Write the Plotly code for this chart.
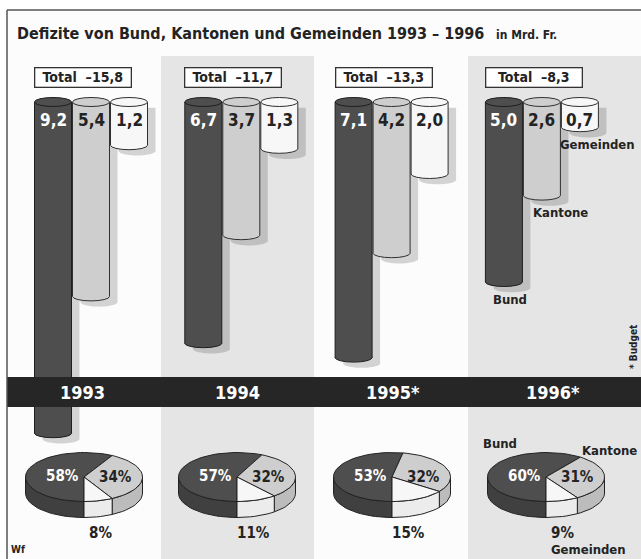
import math
import plotly.graph_objects as go

# ---------------- data ----------------
years = ["1993", "1994", "1995*", "1996*"]
series_names = ["Bund", "Kantone", "Gemeinden"]
bund = [9.2, 6.7, 7.1, 5.0]
kantone = [5.4, 3.7, 4.2, 2.6]
gemeinden = [1.2, 1.3, 2.0, 0.7]
pct_bund = [58, 57, 53, 60]
pct_kantone = [34, 32, 32, 31]
pct_gemeinden = [8, 11, 15, 9]

# ---------------- style / layout ----------------
W, H = 641, 559
Y0, K = 102, 36.0             # pixel of value 0, pixels per unit
y_rng = [(H - Y0) / K, -Y0 / K]
group_x = [91 + 150.3 * i for i in range(4)]
GAP, BW = 38, 37
RY = 4.5 / K                  # cap ellipse half height in value units
pie_cx = [84, 237, 392, 546]
PIE_CY, PIE_RX, PIE_RY, PIE_D = 477, 58.5, 24.5, 16
year_x = [82, 237, 393, 553]

FONT = "DejaVu Sans Condensed, DejaVu Sans, sans-serif"
INK = "#232323"
fill = {"Bund": "#4e4e4e", "Kantone": "#cecece", "Gemeinden": "#f7f7f7"}
side = {"Bund": "#404040", "Kantone": "#bcbcbc", "Gemeinden": "#ececec"}
edge = {"Bund": "#1e1e1e", "Kantone": "#303030", "Gemeinden": "#303030"}
values = {"Bund": bund, "Kantone": kantone, "Gemeinden": gemeinden}
pcts = {"Bund": pct_bund, "Kantone": pct_kantone, "Gemeinden": pct_gemeinden}


def fmt(v):
    return f"{v:.1f}".replace(".", ",")


def fnt(size, color=INK):
    return dict(family=FONT, size=size, weight="bold", color=color)


fig = go.Figure()
shapes = []
annotations = []

# panel backgrounds
shapes.append(dict(type="rect", xref="x", yref="y2", x0=7, x1=641, y0=10, y1=559,
                   fillcolor="#fcfcfc", line=dict(width=0), layer="below"))
for x0, x1 in [(161, 314), (468, 641)]:
    shapes.append(dict(type="rect", xref="x", yref="y2", x0=x0, x1=x1, y0=56, y1=559,
                       fillcolor="#e5e5e5", line=dict(width=0), layer="below"))

# shadows (path shapes, below)
SH_DX, SH_DY = 8, 0.16
for j, s in enumerate(series_names):
    for i, v in enumerate(values[s]):
        xc = group_x[i] + (j - 1) * GAP + SH_DX
        xl, xr = xc - BW / 2, xc + BW / 2
        yb = v + SH_DY
        pts = [f"M{xl},{SH_DY}", f"L{xl},{yb}"]
        for t in range(0, 21):
            a = math.pi * t / 20
            pts.append(f"L{xc - BW / 2 * math.cos(a)},{yb + RY * math.sin(a)}")
        pts.append(f"L{xr},{SH_DY} Z")
        shapes.append(dict(type="path", xref="x", yref="y", path=" ".join(pts),
                           fillcolor="rgba(0,0,0,0.16)", line=dict(width=0), layer="below"))

# bottom ellipses (below bars)
for j, s in enumerate(series_names):
    for i, v in enumerate(values[s]):
        xc = group_x[i] + (j - 1) * GAP
        shapes.append(dict(type="circle", xref="x", yref="y", x0=xc - BW / 2, x1=xc + BW / 2,
                           y0=v - RY, y1=v + RY, fillcolor=fill[s],
                           line=dict(color=edge[s], width=1), layer="below"))

# bar bodies
for j, s in enumerate(series_names):
    xs = [g + (j - 1) * GAP for g in group_x]
    fig.add_trace(go.Bar(x=xs, y=values[s], base=0, width=BW, name=s,
                         marker=dict(color=fill[s], line=dict(width=0)),
                         hoverinfo="skip", showlegend=False))

# side lines and top caps (above)
for j, s in enumerate(series_names):
    for i, v in enumerate(values[s]):
        xc = group_x[i] + (j - 1) * GAP
        for xe in (xc - BW / 2, xc + BW / 2):
            shapes.append(dict(type="line", xref="x", yref="y", x0=xe, x1=xe, y0=0, y1=v,
                               line=dict(color=edge[s], width=1), layer="above"))
        shapes.append(dict(type="circle", xref="x", yref="y", x0=xc - BW / 2, x1=xc + BW / 2,
                           y0=-RY, y1=RY, fillcolor=fill[s],
                           line=dict(color=edge[s], width=1), layer="above"))
        annotations.append(dict(x=xc, y=0.5, xref="x", yref="y", text=fmt(v), showarrow=False,
                                font=fnt(17, "#ffffff" if s == "Bund" else INK)))

# dark year band
shapes.append(dict(type="rect", xref="x", yref="y2", x0=7, x1=641, y0=377, y1=407,
                   fillcolor="#262626", line=dict(width=0), layer="above"))
# frame lines
shapes.append(dict(type="line", xref="x", yref="y2", x0=7, x1=641, y0=10, y1=10,
                   line=dict(color="#555555", width=1.5), layer="above"))
shapes.append(dict(type="line", xref="x", yref="y2", x0=7, x1=7, y0=10, y1=559,
                   line=dict(color="#555555", width=1.5), layer="above"))

# totals and year labels
for i in range(4):
    total = bund[i] + kantone[i] + gemeinden[i]
    annotations.append(dict(x=group_x[i] - 8, y=77.8, xref="x", yref="y2",
                            text=f"Total\u00a0\u00a0–{fmt(total)}", showarrow=False,
                            font=fnt(14), bgcolor="#ffffff", bordercolor="#333333",
                            borderwidth=1.3, width=93, height=16, borderpad=1))
    annotations.append(dict(x=year_x[i], y=392, xref="x", yref="y2", text=years[i],
                            showarrow=False, font=fnt(18, "#ffffff")))

# 3D pies
def ell(cx, th, dy=0.0):
    r = math.radians(th)
    return cx + PIE_RX * math.sin(r), PIE_CY - PIE_RY * math.cos(r) + dy


for i in range(4):
    cx = pie_cx[i]
    start = 180.0
    segs = []
    for s in series_names:
        ext = 360.0 * pcts[s][i] / 100.0
        segs.append((s, start, start + ext))
        start += ext
    # side walls (front half)
    for s, a0, a1 in segs:
        for f0, f1 in [(90, 270), (450, 630)]:
            lo, hi = max(a0, f0), min(a1, f1)
            if hi - lo <= 0.01:
                continue
            n = max(4, int((hi - lo) / 4))
            top = [ell(cx, lo + (hi - lo) * t / n) for t in range(n + 1)]
            bot = [ell(cx, lo + (hi - lo) * t / n, PIE_D) for t in range(n, -1, -1)]
            pts = top + bot + [top[0]]
            fig.add_trace(go.Scatter(x=[p[0] for p in pts], y=[p[1] for p in pts],
                                     xaxis="x", yaxis="y2", mode="lines", fill="toself",
                                     fillcolor=side[s], line=dict(color=INK, width=1),
                                     hoverinfo="skip", showlegend=False))
    # top slices
    for s, a0, a1 in segs:
        n = max(4, int((a1 - a0) / 4))
        arc = [ell(cx, a0 + (a1 - a0) * t / n) for t in range(n + 1)]
        pts = [(cx, PIE_CY)] + arc + [(cx, PIE_CY)]
        fig.add_trace(go.Scatter(x=[p[0] for p in pts], y=[p[1] for p in pts],
                                 xaxis="x", yaxis="y2", mode="lines", fill="toself",
                                 fillcolor=fill[s], line=dict(color=INK, width=1),
                                 hoverinfo="skip", showlegend=False))
    # labels
    annotations.append(dict(x=cx - 22, y=476, xref="x", yref="y2", text=f"{pct_bund[i]}%",
                            showarrow=False, font=fnt(15, "#ffffff")))
    annotations.append(dict(x=cx + 31, y=477, xref="x", yref="y2", text=f"{pct_kantone[i]}%",
                            showarrow=False, font=fnt(15)))
    annotations.append(dict(x=cx + 16, y=533, xref="x", yref="y2", text=f"{pct_gemeinden[i]}%",
                            showarrow=False, font=fnt(15)))

# series labels next to 1996 bars
lab_dx = {"Bund": 6, "Kantone": 19, "Gemeinden": 18}
for j, s in enumerate(series_names):
    v = values[s][3]
    xc = group_x[3] + (j - 1) * GAP
    annotations.append(dict(x=xc + lab_dx[s], y=v + 0.48, xref="x", yref="y", text=s,
                            showarrow=False, font=fnt(13)))

# pie legend labels for 1996
for txt, x, y in [("Bund", 500, 443), ("Kantone", 609, 450), ("Gemeinden", 588, 549)]:
    annotations.append(dict(x=x, y=y, xref="x", yref="y2", text=txt, showarrow=False,
                            font=fnt(13)))

# titles and notes
annotations.append(dict(x=15, y=33, xref="x", yref="y2", xanchor="left",
                        text="Defizite von Bund, Kantonen und Gemeinden 1993 – 1996",
                        showarrow=False, font=fnt(16)))
annotations.append(dict(x=494, y=35, xref="x", yref="y2", xanchor="left", text="in Mrd. Fr.",
                        showarrow=False, font=fnt(12)))
annotations.append(dict(x=9, y=549, xref="x", yref="y2", xanchor="left", text="Wf",
                        showarrow=False, font=fnt(10)))
annotations.append(dict(x=633, y=347, xref="x", yref="y2", text="* Budget", textangle=-90,
                        showarrow=False, font=fnt(10)))

fig.update_layout(
    width=W, height=H, autosize=False,
    margin=dict(l=0, r=0, t=0, b=0),
    paper_bgcolor="#ffffff", plot_bgcolor="rgba(0,0,0,0)",
    barmode="overlay", showlegend=False,
    xaxis=dict(range=[0, W], visible=False, fixedrange=True),
    yaxis=dict(range=y_rng, visible=False, fixedrange=True),
    yaxis2=dict(range=[H, 0], visible=False, overlaying="y", fixedrange=True),
    shapes=shapes, annotations=annotations,
)

fig.write_html("out.html", config={"displayModeBar": False},
               post_script="document.body.style.margin='0';document.body.style.overflow='hidden';")
